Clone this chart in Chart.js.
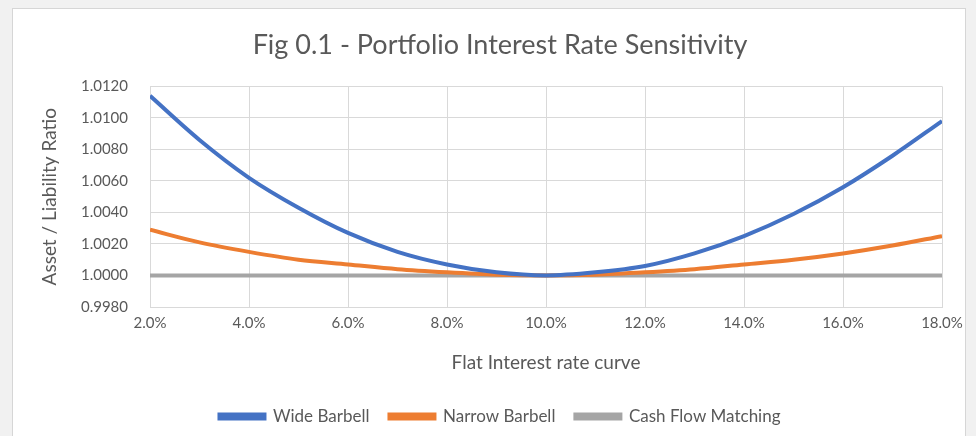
<!DOCTYPE html>
<html>
<head>
<meta charset="utf-8">
<script src="https://cdn.jsdelivr.net/npm/chart.js@4.4.1/dist/chart.umd.min.js"></script>
<style>
  html, body { margin: 0; padding: 0; width: 976px; height: 436px; overflow: hidden; background: #f1f1f1; }
  #card { position: absolute; left: 12px; top: 8px; width: 954px; height: 440px; background: #fff; border: 1px solid #d6d6d6; box-sizing: border-box; }
  #wrap { position: absolute; left: 0; top: 0; width: 976px; height: 436px; }
</style>
</head>
<body>
<div id="card"></div>
<div id="wrap"><canvas id="c" width="976" height="436"></canvas></div>
<script>
// Interest rate (%) on the x axis
const rates = [2, 3, 4, 5, 6, 7, 8, 9, 10, 11, 12, 13, 14, 15, 16, 17, 18];
const wideBarbell = [1.0114, 1.0086, 1.0062, 1.0043, 1.0027, 1.0015, 1.0007, 1.0002, 1.0000, 1.0002, 1.0006, 1.0014, 1.0025, 1.0039, 1.0056, 1.0076, 1.0098];
const narrowBarbell = [1.0029, 1.0021, 1.0015, 1.0010, 1.0007, 1.0004, 1.0002, 1.00005, 1.0000, 1.00005, 1.0002, 1.0004, 1.0007, 1.0010, 1.0014, 1.0019, 1.0025];
const cashFlowMatching = [1.0000, 1.0000, 1.0000, 1.0000, 1.0000, 1.0000, 1.0000, 1.0000, 1.0000, 1.0000, 1.0000, 1.0000, 1.0000, 1.0000, 1.0000, 1.0000, 1.0000];
const seriesNames = ['Wide Barbell', 'Narrow Barbell', 'Cash Flow Matching'];
const titleText = 'Fig 0.1 - Portfolio Interest Rate Sensitivity';
const xTitle = 'Flat Interest rate curve';
const yTitle = 'Asset / Liability Ratio';

const FONT = 'Lato, "Open Sans", sans-serif';
const TXT = '#595959';
const GRID = '#d9d9d9';

const toPts = arr => arr.map((y, i) => ({ x: rates[i], y }));
const mk = (label, arr, color) => ({
  label, data: toPts(arr), borderColor: color, backgroundColor: color,
  borderWidth: 4, pointRadius: 0, pointHoverRadius: 0, tension: 0.4, fill: false,
  cubicInterpolationMode: 'monotone'
});

new Chart(document.getElementById('c'), {
  type: 'line',
  data: {
    datasets: [
      mk(seriesNames[0], wideBarbell, '#4472C4'),
      mk(seriesNames[1], narrowBarbell, '#ED7D31'),
      mk(seriesNames[2], cashFlowMatching, '#A5A5A5')
    ]
  },
  options: {
    responsive: false,
    animation: false,
    devicePixelRatio: 1,
    layout: { padding: { left: 0, right: -24, top: 0, bottom: 1 } },
    plugins: {
      title: {
        display: true, text: titleText, color: TXT,
        font: { family: FONT, size: 27, weight: 'normal' },
        padding: { top: 29, bottom: 25 }
      },
      legend: {
        position: 'bottom',
        labels: {
          color: TXT, font: { family: FONT, size: 17 },
          boxWidth: 45, boxHeight: 4, padding: 20
        }
      },
      tooltip: { enabled: false }
    },
    scales: {
      x: {
        type: 'linear', min: 2, max: 18,
        ticks: {
          stepSize: 2, color: TXT, font: { family: FONT, size: 15 }, padding: 7,
          callback: v => v.toFixed(1) + '%'
        },
        grid: { color: GRID, drawTicks: false, lineWidth: 1 },
        border: { color: GRID },
        title: { display: true, text: xTitle, color: TXT, font: { family: FONT, size: 19 }, padding: { top: 0, bottom: 14 } },
        afterFit: s => { s.height = 81; }
      },
      y: {
        min: 0.998, max: 1.012,
        ticks: {
          stepSize: 0.002, color: TXT, font: { family: FONT, size: 15 }, padding: 22,
          callback: v => v.toFixed(4)
        },
        grid: { color: GRID, drawTicks: false, lineWidth: 1 },
        border: { color: GRID },
        title: { display: true, text: yTitle, color: TXT, font: { family: FONT, size: 19 }, padding: { top: 38.6, bottom: 0 } },
        afterFit: s => { s.width = 150; }
      },
      yRight: {
        position: 'right', display: true,
        ticks: { display: false }, grid: { display: false }, border: { display: false },
        title: { display: false },
        afterFit: s => { s.width = 58; }
      }
    }
  }
});
</script>
</body>
</html>
